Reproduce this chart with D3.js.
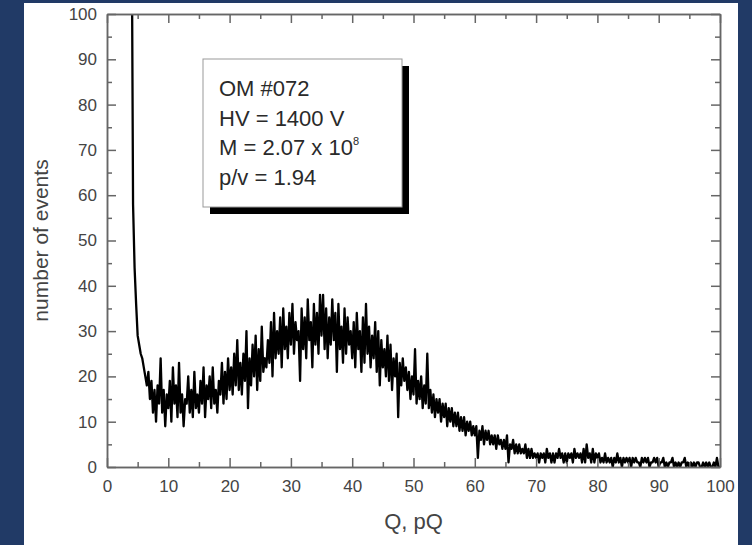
<!DOCTYPE html>
<html>
<head>
<meta charset="utf-8">
<script src="https://cdn.jsdelivr.net/npm/d3@7"></script>
<style>
  html, body { margin: 0; padding: 0; background: #213a66; }
  svg { display: block; }
</style>
</head>
<body>
<svg id="chart" width="752" height="545"></svg>
<script>
// Charge spectrum histogram, bins of 0.25 pQ starting at 4 pQ
const binStart = 4;
const binWidth = 0.25;
const counts = [
  130, 58, 44, 36,  29, 27, 25, 24,  22, 20, 18, 21,  15, 19, 12, 17,  10, 18, 14, 24,
  12, 17, 9, 16,  13, 19, 10, 22,  14, 18, 11, 23,  12, 16, 9, 15,  14, 20, 12, 17,
  11, 21, 13, 16,  12, 19, 14, 22,  11, 18, 15, 20,  13, 22, 14, 17,  12, 19, 16, 23,
  14, 21, 15, 24,  17, 22, 16, 25,  18, 28, 17, 23,  16, 25, 19, 30,  13, 24, 18, 27,
  20, 29, 17, 26,  19, 31, 21, 24,  22, 28, 23, 32,  20, 34, 24, 30,  25, 33, 22, 35,
  26, 31, 24, 34,  27, 36, 25, 32,  28, 30, 19, 35,  26, 33, 24, 37,  28, 32, 22, 36,
  27, 34, 25, 38,  29, 38, 26, 35,  24, 33, 27, 37,  28, 34, 21, 36,  26, 31, 23, 35,
  25, 33, 27, 30,  24, 32, 22, 34,  26, 30, 21, 33,  23, 36, 25, 31,  22, 29, 24, 32,
  21, 30, 18, 28,  22, 26, 20, 29,  19, 27, 17, 24,  20, 25, 11, 23,  18, 24, 19, 22,
  17, 21, 15, 20,  16, 26, 14, 19,  15, 20, 13, 18,  14, 25, 13, 17,  12, 16, 11, 15,
  12, 15, 10, 14,  11, 14, 9, 13,  10, 13, 9, 12,  9, 12, 8, 11,  8, 11, 7, 10,
  8, 10, 7, 9,  7, 9, 2, 8,  6, 9, 5, 8,  6, 8, 5, 7,  5, 7, 4, 7,
  5, 6, 4, 6,  4, 7, 1, 5,  4, 6, 3, 5,  3, 5, 3, 4,  3, 5, 2, 4,
  2, 4, 2, 3,  2, 3, 1, 3,  2, 3, 1, 4,  2, 3, 1, 3,  1, 3, 2, 4,
  2, 3, 1, 3,  1, 3, 2, 3,  1, 4, 2, 3,  2, 3, 1, 4,  1, 5, 2, 3,
  1, 4, 1, 3,  2, 3, 1, 2,  1, 3, 1, 2,  1, 2, 0, 2,  1, 3, 1, 2,
  0, 2, 1, 2,  1, 2, 0, 2,  1, 2, 1, 1,  0, 2, 1, 2,  1, 2, 0, 1,
  1, 2, 1, 2,  0, 1, 1, 2,  0, 1, 0, 1,  1, 2, 0, 1,  0, 1, 0, 1,
  1, 2, 0, 1,  0, 1, 0, 1,  0, 1, 1, 0,  0, 1, 0, 1,  0, 1, 0, 0,
  1, 0, 2, 0,  0
];
const xTicks = [0, 10, 20, 30, 40, 50, 60, 70, 80, 90, 100];
const yTicks = [0, 10, 20, 30, 40, 50, 60, 70, 80, 90, 100];
const minorTicks = [5, 15, 25, 35, 45, 55, 65, 75, 85, 95];
const infoLines = ["OM #072", "HV = 1400 V", "M = 2.07 x 10", "p/v = 1.94"];

const svg = d3.select("#chart");
const font = "Liberation Sans, Arial, sans-serif";
const axisColor = "#666";
const textColor = "#444";

// white page behind the figure
svg.append("rect")
  .attr("x", 24).attr("y", 3)
  .attr("width", 714).attr("height", 542)
  .attr("fill", "#fff");

const plot = { left: 107, top: 14, right: 720, bottom: 467 };

const x = d3.scaleLinear().domain([0, 100]).range([plot.left, plot.right]);
const y = d3.scaleLinear().domain([0, 100]).range([plot.bottom, plot.top]);

svg.append("defs").append("clipPath").attr("id", "plotClip")
  .append("rect")
  .attr("x", plot.left).attr("y", plot.top)
  .attr("width", plot.right - plot.left).attr("height", plot.bottom - plot.top);

// histogram trace, drawn heavy so the noise reads as a solid band
const line = d3.line()
  .x((d, i) => x(binStart + i * binWidth))
  .y(d => y(d));

svg.append("path")
  .datum(counts)
  .attr("clip-path", "url(#plotClip)")
  .attr("fill", "none")
  .attr("stroke", "#000")
  .attr("stroke-width", 2.3)
  .attr("stroke-linejoin", "round")
  .attr("d", line);

// axes: major ticks labelled on bottom/left, all ticks pointing inward
function styleAxis(g) {
  g.selectAll(".domain").attr("stroke", axisColor).attr("stroke-width", 1.5);
  g.selectAll(".tick line").attr("stroke", axisColor).attr("stroke-width", 1.5);
  g.selectAll(".tick text")
    .attr("fill", textColor)
    .style("font-family", font)
    .style("font-size", "17px");
}

const majorLen = 9, minorLen = 5;

svg.append("g")
  .attr("transform", `translate(0,${plot.bottom})`)
  .call(d3.axisBottom(x).tickValues(xTicks).tickSizeInner(-majorLen).tickSizeOuter(0).tickPadding(13))
  .call(styleAxis);
svg.append("g")
  .attr("transform", `translate(0,${plot.bottom})`)
  .call(d3.axisBottom(x).tickValues(minorTicks).tickSizeInner(-minorLen).tickSizeOuter(0).tickFormat(""))
  .call(styleAxis);

svg.append("g")
  .attr("transform", `translate(${plot.left},0)`)
  .call(d3.axisLeft(y).tickValues(yTicks).tickSizeInner(-majorLen).tickSizeOuter(0).tickPadding(10))
  .call(styleAxis);
svg.append("g")
  .attr("transform", `translate(${plot.left},0)`)
  .call(d3.axisLeft(y).tickValues(minorTicks).tickSizeInner(-minorLen).tickSizeOuter(0).tickFormat(""))
  .call(styleAxis);

svg.append("g")
  .attr("transform", `translate(0,${plot.top})`)
  .call(d3.axisTop(x).tickValues(xTicks).tickSizeInner(-majorLen).tickSizeOuter(0).tickFormat(""))
  .call(styleAxis);
svg.append("g")
  .attr("transform", `translate(0,${plot.top})`)
  .call(d3.axisTop(x).tickValues(minorTicks).tickSizeInner(-minorLen).tickSizeOuter(0).tickFormat(""))
  .call(styleAxis);

svg.append("g")
  .attr("transform", `translate(${plot.right},0)`)
  .call(d3.axisRight(y).tickValues(yTicks).tickSizeInner(-majorLen).tickSizeOuter(0).tickFormat(""))
  .call(styleAxis);
svg.append("g")
  .attr("transform", `translate(${plot.right},0)`)
  .call(d3.axisRight(y).tickValues(minorTicks).tickSizeInner(-minorLen).tickSizeOuter(0).tickFormat(""))
  .call(styleAxis);

// axis titles
svg.append("text")
  .attr("x", (plot.left + plot.right) / 2)
  .attr("y", 529)
  .attr("text-anchor", "middle")
  .attr("fill", textColor)
  .style("font-family", font)
  .style("font-size", "22px")
  .text("Q, pQ");

svg.append("text")
  .attr("transform", `translate(48,${(plot.top + plot.bottom) / 2}) rotate(-90)`)
  .attr("text-anchor", "middle")
  .attr("fill", textColor)
  .style("font-family", font)
  .style("font-size", "21px")
  .text("number of events");

// info box with drop shadow
const box = { x: 203, y: 59, w: 199, h: 148 };
svg.append("rect")
  .attr("x", box.x + 7).attr("y", box.y + 7)
  .attr("width", box.w).attr("height", box.h)
  .attr("fill", "#000");
svg.append("rect")
  .attr("x", box.x).attr("y", box.y)
  .attr("width", box.w).attr("height", box.h)
  .attr("fill", "#fff")
  .attr("stroke", "#999")
  .attr("stroke-width", 1);

const info = svg.append("g")
  .attr("fill", "#2a2a2a")
  .style("font-family", font)
  .style("font-size", "22px");

info.selectAll("text")
  .data(infoLines)
  .join("text")
  .attr("x", box.x + 16)
  .attr("y", (d, i) => 96 + i * 29.5)
  .text(d => d);

// superscript exponent on the gain line
info.select("text:nth-child(3)")
  .append("tspan")
  .attr("dy", -10)
  .style("font-size", "11px")
  .text("8");
</script>
</body>
</html>
